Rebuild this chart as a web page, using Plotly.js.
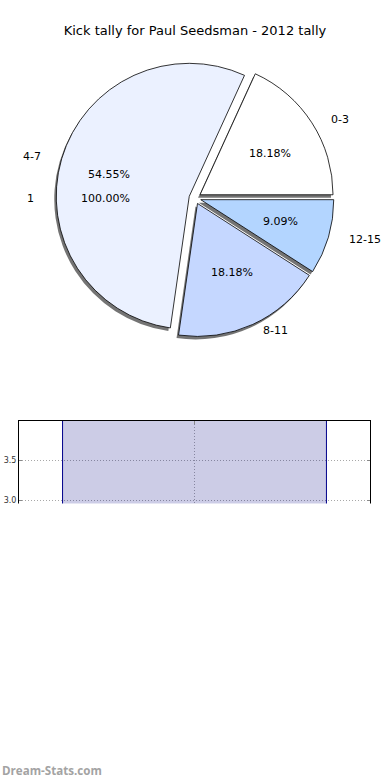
<!DOCTYPE html>
<html><head><meta charset="utf-8">
<script src="https://cdn.plot.ly/plotly-3.0.1.min.js"></script>
<style>html,body{margin:0;padding:0;background:#fff}</style>
</head><body><div id="chart" style="width:390px;height:780px"></div>
<script>
// ---- data ----
const categories = ['0-3', '4-7', '8-11', '12-15'];
const kicks = [2, 6, 2, 1];
const ghostLabels = ['1'];
const ghostValues = [1];
const barCategories = ['2012'];
const barValues = [4];
const yTicks = [0, 0.5, 1, 1.5, 2, 2.5, 3, 3.5, 4];

// ---- style / geometry ----
const W = 390, H = 780;
const sliceColors = ['#ffffff', '#ebf1ff', '#c5d7ff', '#b3d5ff'];
const cx = 195, cy = 198, r = 133, pullFrac = 0.045;
const half = r * (1 + pullFrac);
function dom(dx, dy) {
  return {x: [(cx - half + dx) / W, (cx + half + dx) / W],
          y: [1 - (cy + half + dy) / H, 1 - (cy - half + dy) / H]};
}
const font = 'DejaVu Sans, sans-serif';
const pulls = kicks.map(() => pullFrac);
const total = kicks.reduce((a, b) => a + b, 0);
// first slice starts at 3 o'clock and runs counterclockwise
const rot = 90 - 360 * kicks[0] / total;

const shadow = {
  type: 'pie', values: kicks, labels: categories, sort: false,
  direction: 'counterclockwise', rotation: rot, pull: pulls,
  domain: dom(-2, 3), textinfo: 'none', hoverinfo: 'skip',
  marker: {colors: kicks.map(() => 'rgba(70,70,70,0.75)'), line: {width: 0}},
  showlegend: false
};
const main = {
  type: 'pie', values: kicks, labels: categories, sort: false,
  direction: 'counterclockwise', rotation: rot, pull: pulls,
  domain: dom(0, 0), textinfo: 'none', hoverinfo: 'skip',
  marker: {colors: sliceColors, line: {color: '#000', width: 0.8}},
  showlegend: false
};

// label / percent positions (matplotlib style: labels at 1.1 r, percents at 0.6 r)
const annotations = [];
const rx = 139, ry = 127, pullPx = 6;
const tfont = {family: font, size: 11, color: '#000'};
let acc = 0;
kicks.forEach((v, i) => {
  const mid = (acc + v / 2) / total * 2 * Math.PI;
  acc += v;
  const c = Math.cos(mid), s = Math.sin(mid);
  const ox = cx + pullPx * c, oy = cy - pullPx * s;
  annotations.push({xref: 'paper', yref: 'paper', x: (ox + 1.1 * rx * c) / W, y: 1 - (oy - 1.1 * ry * s) / H,
    text: categories[i], showarrow: false, xanchor: c >= 0 ? 'left' : 'right',
    yanchor: 'middle', font: tfont});
  annotations.push({xref: 'paper', yref: 'paper', x: (ox + 0.6 * rx * c) / W, y: 1 - (oy - 0.6 * ry * s) / H,
    text: (v / total * 100).toFixed(2) + '%', showarrow: false, xanchor: 'center',
    yanchor: 'middle', font: tfont});
});
// ghost single-value pie labels
const gTotal = ghostValues.reduce((a, b) => a + b, 0);
ghostValues.forEach((v, i) => {
  const mid = (v / 2) / gTotal * 2 * Math.PI;
  const gx = cx - 6, gy = cy;
  annotations.push({xref: 'paper', yref: 'paper',
    x: (gx + 1.1 * rx * Math.cos(mid)) / W, y: 1 - (gy - 1.1 * ry * Math.sin(mid)) / H,
    text: ghostLabels[i], showarrow: false, xanchor: 'right', yanchor: 'middle', font: tfont});
  annotations.push({xref: 'paper', yref: 'paper',
    x: (gx + 0.6 * rx * Math.cos(mid)) / W, y: 1 - (gy - 0.6 * ry * Math.sin(mid)) / H,
    text: (v / gTotal * 100).toFixed(2) + '%', showarrow: false, xanchor: 'center', yanchor: 'middle', font: tfont});
});
annotations.push({xref: 'paper', yref: 'paper', x: 0, y: 1 - 770 / H, xanchor: 'left', yanchor: 'middle',
  text: '<b>Dream-Stats.com</b>', showarrow: false, font: {family: 'Open Sans, sans-serif', size: 11.6, color: '#a3a3a3'}});

const bar = {
  type: 'bar', x: barCategories, y: barValues, width: 0.8,
  marker: {color: 'rgba(0,0,128,0.2)', line: {color: '#00008b', width: 1}},
  xaxis: 'x', yaxis: 'y', hoverinfo: 'skip', showlegend: false
};

const yTop = 3.99, pxPerUnit = 80, yTopPx = 421;
const layout = {
  width: W, height: H, margin: {l: 0, r: 0, t: 0, b: 0},
  paper_bgcolor: '#fff', plot_bgcolor: '#fff', showlegend: false,
  title: {text: 'Kick tally for Paul Seedsman - 2012 tally', x: 0.5, xanchor: 'center',
          y: 1 - 30 / H, yanchor: 'middle', font: {family: font, size: 13, color: '#000'}},
  xaxis: {domain: [19 / W, 370 / W], range: [-0.532, 0.532], type: 'category',
          showgrid: true, gridcolor: '#a8a8a8', griddash: '1px,2px', gridwidth: 1,
          showline: true, linecolor: '#000', linewidth: 1, mirror: 'ticks',
          ticks: 'inside', ticklen: 3, tickcolor: '#888', tickfont: {family: font, size: 8}, zeroline: false},
  yaxis: {domain: [1 - (yTopPx + yTop * pxPerUnit) / H, 1 - yTopPx / H], range: [0, yTop], tickvals: yTicks,
          ticktext: yTicks.map(t => t.toFixed(1)),
          showgrid: true, gridcolor: '#a8a8a8', griddash: '1px,2px', gridwidth: 1,
          showline: true, linecolor: '#000', linewidth: 1, mirror: 'ticks',
          ticks: 'inside', ticklen: 3, tickcolor: '#888', tickfont: {family: font, size: 8, color: '#333'},
          zeroline: false},
  shapes: [{type: 'rect', xref: 'paper', yref: 'paper', x0: 0, x1: 1, y0: 0, y1: 1 - 503.5 / H,
            fillcolor: '#fff', line: {width: 0}, layer: 'above'}],
  annotations: annotations
};

Plotly.newPlot('chart', [bar, shadow, main], layout, {displayModeBar: false, staticPlot: true});
</script>
</body></html>
